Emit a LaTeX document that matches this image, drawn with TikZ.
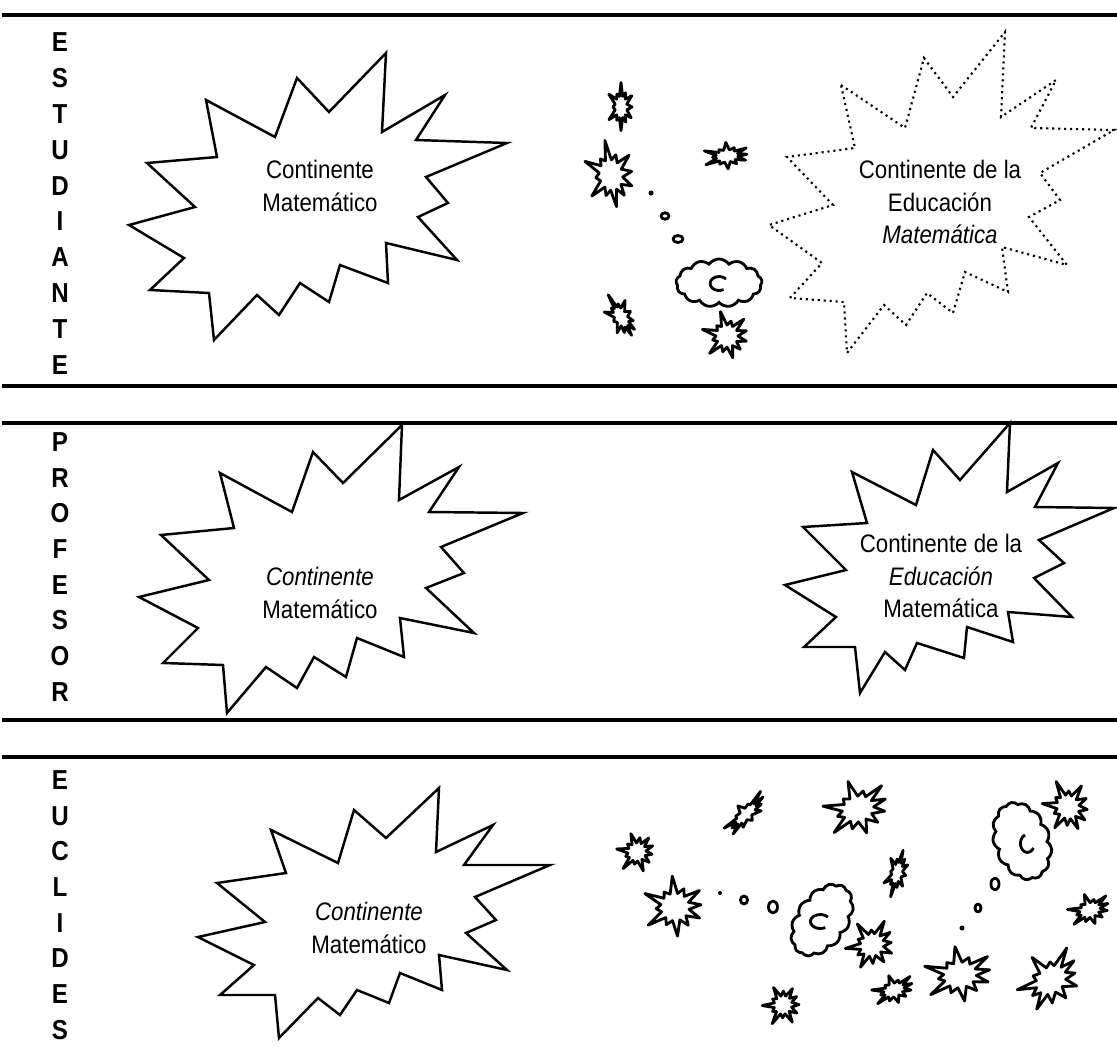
\documentclass[tikz,border=0pt]{standalone}
\usepackage{fontspec}
\setmainfont[FakeStretch=0.88]{Liberation Sans}
\usetikzlibrary{shapes.symbols}

% little jagged burst: centre x, centre y, x radius, y radius, turn
\newcommand{\burst}[5]{%
  \draw[burstline, shift={(#1,#2)}, rotate=#5] (#3,0)
    \foreach \k in {1,...,23} {
      -- ({cos(\k*15)*#3*(0.55+(1-mod(\k,2))*(0.45+0.28*sin(\k*83+#5)))},
          {sin(\k*15)*#4*(0.55+(1-mod(\k,2))*(0.45+0.28*sin(\k*83+#5)))})
    } -- cycle;
}

\begin{document}
\begin{tikzpicture}[x=0.01cm, y=-0.01cm,
    rule/.style={line width=1.1pt},
    starline/.style={line width=0.7pt, line join=miter},
    dotline/.style={line width=0.6pt, dash pattern=on 0.6pt off 1.1pt},
    burstline/.style={line width=0.8pt, line join=round},
    cloudy/.style={cloud, draw, cloud puffs=13, cloud puff arc=110, line width=0.8pt, inner sep=0pt},
    sidelabel/.style={font=\fontsize{7.8}{8}\selectfont\bfseries, inner sep=0pt},
    contlabel/.style={font=\fontsize{7.2}{9.3}\selectfont, align=center, inner sep=0pt}]

  \useasboundingbox (0,0) rectangle (1117,1048);

  % band rules
  \draw[rule] (2,15) -- (1117,15);
  \draw[rule] (2,386) -- (1117,386);
  \draw[rule] (2,423) -- (1117,423);
  \draw[rule] (2,720) -- (1117,720);
  \draw[rule] (2,757) -- (1117,757);

  % vertical names
  \foreach \l [count=\i] in {E,S,T,U,D,I,A,N,T,E}
    \node[sidelabel] (est\i) at (60,{42+35.9*(\i-1)}) {\l};
  \foreach \l [count=\i] in {P,R,O,F,E,S,O,R}
    \node[sidelabel] (prof\i) at (60,{442+35.7*(\i-1)}) {\l};
  \foreach \l [count=\i] in {E,U,C,L,I,D,E,S}
    \node[sidelabel] (eucl\i) at (60,{780+35.7*(\i-1)}) {\l};

  %%% ESTUDIANTE
  \draw[starline] (206,100) -- (275,137) -- (297,78) -- (329,112) -- (386,53) -- (382,132)
    -- (445,95) -- (416,140) -- (507,143) -- (426,177) -- (448,203) -- (418,217)
    -- (457,260) -- (386,243) -- (388,283) -- (340,265) -- (329,302) -- (300,283)
    -- (279,315) -- (257,295) -- (214,340) -- (209,293) -- (150,290) -- (184,258)
    -- (129,225) -- (195,207) -- (147,163) -- (217,157) -- cycle;
  \node[contlabel] (matA) at (320,186) {Continente\\Matemático};

  \draw[dotline] (841,85) -- (905,128) -- (924,58) -- (953,97) -- (1005,32) -- (1001,117)
    -- (1056,80) -- (1031,128) -- (1114,130) -- (1040,173) -- (1060,200) -- (1029,217)
    -- (1067,265) -- (1002,247) -- (1008,292) -- (965,272) -- (953,313) -- (927,293)
    -- (906,325) -- (884,305) -- (847,353) -- (844,302) -- (790,298) -- (822,263)
    -- (769,225) -- (833,205) -- (787,157) -- (855,148) -- cycle;
  \node[contlabel] (eduA) at (940,202) {Continente de la\\Educación\\\textit{Matemática}};

  \burst{621}{107}{11}{20}{0}
  \burst{611}{175}{21}{28}{10}
  \burst{727}{156}{20}{11}{5}
  \burst{621}{317}{11}{20}{30}
  \burst{727}{336}{20}{20}{15}
  \fill (651,193) circle[radius=0.025cm];
  \draw[burstline] (665,216) ellipse[x radius=0.04cm, y radius=0.032cm];
  \draw[burstline] (678,239) ellipse[x radius=0.05cm, y radius=0.035cm];
  \node[cloudy, minimum width=0.86cm, minimum height=0.48cm] (cloudA) at (719,283) {};
  \draw[burstline] ([shift={(0.07cm,0.04cm)}]cloudA.center)
    arc[start angle=40, end angle=300, x radius=0.09cm, y radius=0.07cm];

  %%% PROFESOR
  \draw[starline] (220,473) -- (292,512) -- (313,452) -- (343,483) -- (402,425) -- (399,500)
    -- (459,467) -- (429,512) -- (523,513) -- (441,547) -- (464,573) -- (426,588)
    -- (474,633) -- (400,618) -- (404,657) -- (357,638) -- (346,677) -- (314,657)
    -- (297,688) -- (266,667) -- (227,713) -- (223,665) -- (163,663) -- (198,628)
    -- (139,597) -- (209,580) -- (161,535) -- (234,528) -- cycle;
  \node[contlabel] (matB) at (320,593) {\textit{Continente}\\Matemático};

  \draw[starline] (852,472) -- (916,505) -- (933,450) -- (960,480) -- (1010,423) -- (1007,492)
    -- (1058,463) -- (1035,507) -- (1114,508) -- (1039,540) -- (1064,563) -- (1034,578)
    -- (1072,617) -- (1008,612) -- (1013,642) -- (967,627) -- (964,658) -- (917,643)
    -- (905,670) -- (885,652) -- (860,693) -- (855,647) -- (804,647) -- (836,617)
    -- (785,585) -- (846,570) -- (803,527) -- (867,523) -- cycle;
  \node[contlabel] (eduB) at (941,576) {Continente de la\\\textit{Educación}\\Matemática};

  %%% EUCLIDES
  \draw[starline] (271,830) -- (338,863) -- (354,810) -- (386,838) -- (439,788) -- (436,852)
    -- (493,825) -- (464,865) -- (550,865) -- (475,897) -- (496,920) -- (466,933)
    -- (507,970) -- (439,955) -- (442,990) -- (400,973) -- (389,1003) -- (357,990)
    -- (340,1015) -- (318,998) -- (279,1038) -- (275,995) -- (220,995) -- (254,965)
    -- (198,937) -- (265,922) -- (217,883) -- (286,873) -- cycle;
  \node[contlabel] (matC) at (369,928) {\textit{Continente}\\Matemático};

  \burst{637}{852}{16}{17}{-40}
  \burst{746}{814}{24}{9}{45}
  \burst{858}{809}{29}{23}{20}
  \burst{675}{907}{26}{25}{5}
  \burst{897}{873}{9}{20}{-15}
  \burst{872}{945}{22}{20}{35}
  \burst{783}{1005}{16}{17}{-30}
  \burst{894}{990}{19}{12}{20}
  \burst{960}{975}{30}{23}{10}
  \burst{1068}{807}{20}{22}{25}
  \burst{1090}{910}{19}{13}{20}
  \burst{1051}{980}{30}{23}{40}
  \fill (720,893) circle[radius=0.02cm];
  \draw[burstline] (744,900) ellipse[x radius=0.035cm, y radius=0.04cm];
  \draw[burstline] (773,907) ellipse[x radius=0.045cm, y radius=0.06cm];
  \fill (962,928) circle[radius=0.025cm];
  \draw[burstline] (978,908) ellipse[x radius=0.03cm, y radius=0.04cm];
  \draw[burstline] (995,884) ellipse[x radius=0.04cm, y radius=0.06cm];
  \node[cloudy, minimum width=0.8cm, minimum height=0.52cm, rotate=55] (cloudB) at (822,920) {};
  \draw[burstline] ([shift={(0.06cm,0.03cm)}]cloudB.center)
    arc[start angle=40, end angle=300, x radius=0.1cm, y radius=0.07cm];
  \node[cloudy, minimum width=0.8cm, minimum height=0.56cm, rotate=-70] (cloudC) at (1022,841) {};
  \draw[burstline] ([shift={(0.03cm,0.06cm)}]cloudC.center)
    arc[start angle=110, end angle=330, x radius=0.07cm, y radius=0.09cm];

\end{tikzpicture}
\end{document}
